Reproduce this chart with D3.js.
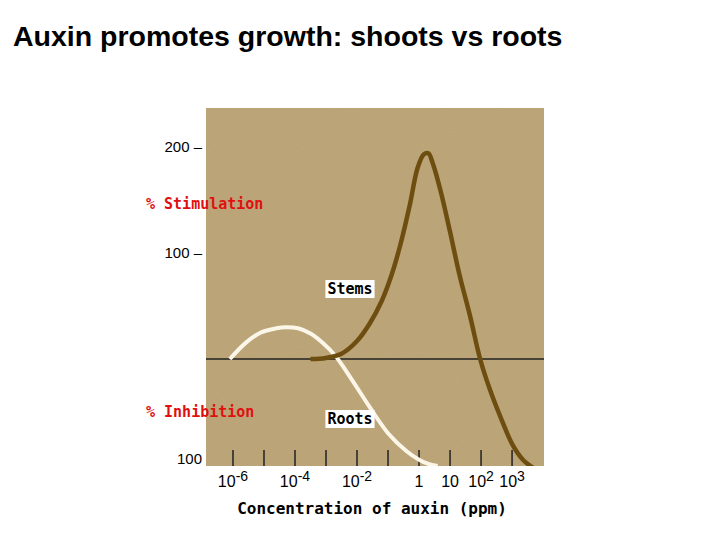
<!DOCTYPE html><html><head><meta charset="utf-8"><script src="https://cdn.jsdelivr.net/npm/d3@7"></script>
<style>body{margin:0;background:#fff}</style></head><body><svg id="c" width="720" height="540"></svg>
<script>
const tickExps=[-6,-5,-4,-3,-2,-1,0,1,2,3];
const tickLabels=[["10","-6"],["10","-4"],["10","-2"],["1",""],["10",""],["10","2"],["10","3"]];
const labelExps=[-6,-4,-2,0,1,2,3];
const yTicks=[{v:200,t:"200"},{v:100,t:"100"},{v:-100,t:"100"}];
const rootsX=[-6.1,-5.6,-5.1,-4.6,-4.3,-3.9,-3.5,-3.1,-2.7,-2.2,-1.6,-1,-0.4,0,0.3,0.6];
const rootsY=[0,15,25,29,30,29,24,15,3,-18,-45,-70,-87,-95,-99,-101];
const stemsX=[-3.5,-3,-2.5,-2,-1.6,-1.2,-0.9,-0.6,-0.3,-0.05,0.15,0.3,0.45,0.7,1.0,1.3,1.65,1.97,2.3,2.7,3.0,3.35,3.7];
const stemsY=[0,1,5,17,33,55,78,108,145,180,193,194,184,158,120,80,40,0,-30,-60,-80,-95,-103];
const svg=d3.select("#c");
const x=d3.scaleLinear().domain([-6.87,4.03]).range([206,544]);
const y=d3.scaleLinear().domain([-100,200]).range([465,147]);
svg.append("text").attr("x",13).attr("y",46).attr("font-family","Liberation Sans, Arial").attr("font-weight","bold").attr("font-size",28.5).text("Auxin promotes growth: shoots vs roots");
const defs=svg.append("defs");
const f=defs.append("filter").attr("id","n").attr("x",0).attr("y",0).attr("width",1).attr("height",1);
f.append("feTurbulence").attr("type","fractalNoise").attr("baseFrequency",0.9).attr("numOctaves",2).attr("seed",3);
f.append("feColorMatrix").attr("values","0 0 0 0 0.55  0 0 0 0 0.45  0 0 0 0 0.3  0 0 0 0.35 0");
const cp=defs.append("clipPath").attr("id","cp");
cp.append("rect").attr("x",206).attr("y",108).attr("width",338).attr("height",358);
svg.append("rect").attr("x",206).attr("y",108).attr("width",338).attr("height",358).attr("fill","#b9a171");
svg.append("rect").attr("x",206).attr("y",108).attr("width",338).attr("height",358).attr("filter","url(#n)").attr("clip-path","url(#cp)");
svg.append("line").attr("x1",206).attr("x2",544).attr("y1",y(0)).attr("y2",y(0)).attr("stroke","#222").attr("stroke-width",1.5);
svg.selectAll(".xt").data(tickExps).join("line").attr("x1",d=>x(d)).attr("x2",d=>x(d)).attr("y1",450).attr("y2",466).attr("stroke","#222").attr("stroke-width",1.5);
const tl=svg.selectAll(".xl").data(labelExps).join("text").attr("x",d=>x(d)).attr("y",487).attr("text-anchor","middle").attr("font-family","Liberation Sans, Arial").attr("font-size",16).attr("fill","#000");
tl.each(function(d,i){const t=d3.select(this);t.append("tspan").text(tickLabels[i][0]);if(tickLabels[i][1])t.append("tspan").attr("dy",-6).attr("font-size",14).text(tickLabels[i][1]);});
svg.selectAll(".yl").data(yTicks).join("text").attr("x",202).attr("y",d=>d.v===-100?y(-100)-1:y(d.v)+5).attr("text-anchor","end").attr("font-family","Liberation Sans, Arial").attr("font-size",15).text(d=>d.t+(d.v>0?" –":""));
const line=d3.line().x(d=>x(d[0])).y(d=>y(d[1])).curve(d3.curveCatmullRom);
const g=svg.append("g").attr("clip-path","url(#cp)");
g.append("path").attr("d",line(rootsX.map((v,i)=>[v,rootsY[i]]))).attr("fill","none").attr("stroke","#fbf6e8").attr("stroke-width",4);
g.append("path").attr("d",line(stemsX.map((v,i)=>[v,stemsY[i]]))).attr("fill","none").attr("stroke","#6e4e10").attr("stroke-width",4.5);
function lab(t,cx,cy){const gg=svg.append("g");const tx=gg.append("text").attr("x",cx).attr("y",cy).attr("text-anchor","middle").attr("font-family","DejaVu Sans Mono").attr("font-weight","bold").attr("font-size",15).text(t);const b=tx.node().getBBox();gg.insert("rect","text").attr("x",b.x-2).attr("y",b.y).attr("width",b.width+4).attr("height",b.height).attr("fill","#fff");}
lab("Stems",350,294);lab("Roots",350,424);
svg.append("text").attr("x",146).attr("y",209).attr("font-family","DejaVu Sans Mono").attr("font-weight","bold").attr("font-size",15).attr("fill","#e01010").text("% Stimulation");
svg.append("text").attr("x",146).attr("y",417).attr("font-family","DejaVu Sans Mono").attr("font-weight","bold").attr("font-size",15).attr("fill","#e01010").text("% Inhibition");
svg.append("text").attr("x",372).attr("y",514).attr("text-anchor","middle").attr("font-family","DejaVu Sans Mono").attr("font-weight","bold").attr("font-size",16).text("Concentration of auxin (ppm)");
</script></body></html>
